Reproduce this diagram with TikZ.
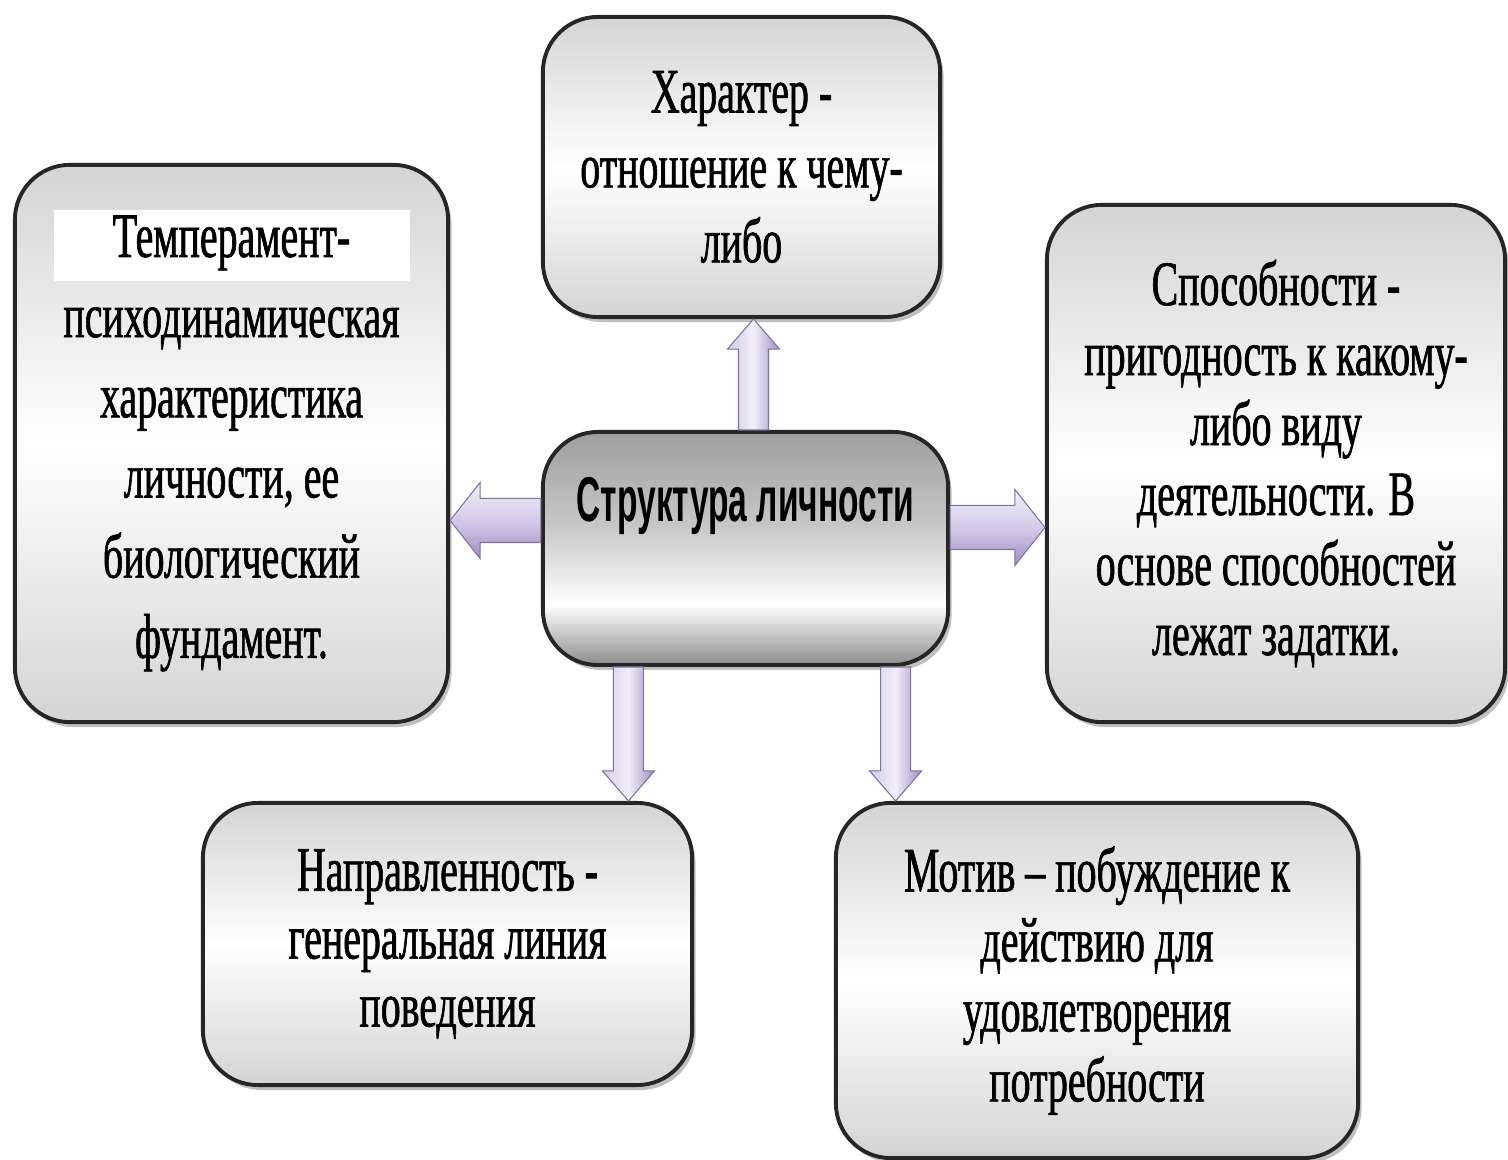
\documentclass[tikz,border=0pt]{standalone}
\usepackage{fontspec}
\setmainfont[FakeStretch=0.63, FakeBold=1]{Liberation Serif}
\newfontfamily\headfont[FakeStretch=0.53]{Liberation Sans}
\usetikzlibrary{calc,positioning,shadows}
\definecolor{lav}{RGB}{160,140,196}
\definecolor{lavlight}{RGB}{212,202,232}
\definecolor{boxgray}{RGB}{212,212,212}
\pgfdeclareverticalshading{coreshade}{100bp}{color(0bp)=(black!45); color(25bp)=(black!45); color(38bp)=(white); color(55bp)=(black!22); color(75bp)=(black!38); color(100bp)=(black!38)}
\tikzstyle{box} = [rectangle, rounded corners=0.55cm, draw=black!85, line width=1.1pt, top color=boxgray, bottom color=boxgray, middle color=white, drop shadow={shadow xshift=1pt, shadow yshift=-1.4pt, opacity=0.5}, align=center, inner sep=0pt]
\tikzstyle{corebox} = [rectangle, rounded corners=0.55cm, draw=black!85, line width=1.1pt, shading=coreshade, drop shadow={shadow xshift=1pt, shadow yshift=-1.4pt, opacity=0.5}, inner sep=0pt]
\tikzstyle{arrv} = [left color=lavlight, right color=lav, middle color=white!70!lavlight, draw=lav!80!black, line width=0.3pt]
\tikzstyle{arrh} = [top color=white!70!lavlight, bottom color=lav, middle color=lavlight, draw=lav!80!black, line width=0.3pt]
% block arrow: style, from, to, shaft half width, head half width
\newcommand{\blockarrow}[5]{%
  \coordinate (hb) at ($(#3)!0.3cm!(#2)$);
  \path[#1] ($(#2)!#4!90:(#3)$) -- ($(hb)!#4!-90:(#2)$) -- ($(hb)!#5!-90:(#2)$) -- (#3)
    -- ($(hb)!#5!90:(#2)$) -- ($(hb)!#4!90:(#2)$) -- ($(#2)!#4!-90:(#3)$) -- cycle;}

\begin{document}
\begin{tikzpicture}[x=0.01cm, y=0.01cm]
    \useasboundingbox (0,0) rectangle (1508,1160);

    % boxes
    \node[box, minimum width=3.97cm, minimum height=3cm, font=\fontsize{18}{21.3}\selectfont] (char) at (741.5,993)
        {Характер -\\ отношение к чему-\\ либо};
    \node[box, minimum width=4.33cm, minimum height=5.57cm, font=\fontsize{18}{22.8}\selectfont,
          path picture={\fill[white, sharp corners] ($(path picture bounding box.center)+(-178,162)$) rectangle ($(path picture bounding box.center)+(178,233)$);}] (temp) at (231.5,716.5)
        {Темперамент-\\ психодинамическая\\ характеристика\\ личности, ее\\ биологический\\ фундамент.};
    \node[box, minimum width=4.58cm, minimum height=5.17cm, font=\fontsize{18}{19.9}\selectfont] (abil) at (1276,696.5)
        {Способности -\\ пригодность к какому-\\ либо виду\\ деятельности. В\\ основе способностей\\ лежат задатки.};
    \node[corebox, minimum width=4.05cm, minimum height=2.33cm] (core) at (745.5,611.5) {};
    \node[font=\headfont\bfseries\fontsize{18}{21}\selectfont] (coretitle) at ([yshift=0.43cm]core.center) {Структура личности};
    \node[box, minimum width=4.89cm, minimum height=2.82cm, font=\fontsize{18}{19.3}\selectfont] (dir) at (447.5,216)
        {Направленность -\\ генеральная линия\\ поведения};
    \node[box, minimum width=5.22cm, minimum height=3.55cm, font=\fontsize{18}{19.9}\selectfont] (mot) at (1097,179.5)
        {Мотив – побуждение к\\ действию для\\ удовлетворения\\ потребности};

    % arrows
    \coordinate (upA) at ([xshift=0.08cm]core.north);
    \coordinate (leftA) at ([yshift=0.28cm]core.west);
    \coordinate (rightA) at ([yshift=0.21cm]core.east);
    \coordinate (downA) at ([xshift=-1.17cm]core.south);
    \coordinate (downB) at ([xshift=1.5cm]core.south);
    \blockarrow{arrv}{upA}{upA |- char.south}{0.15cm}{0.26cm}
    \blockarrow{arrh}{leftA}{leftA -| temp.east}{0.22cm}{0.38cm}
    \blockarrow{arrh}{rightA}{rightA -| abil.west}{0.22cm}{0.38cm}
    \blockarrow{arrv}{downA}{downA |- dir.north}{0.15cm}{0.26cm}
    \blockarrow{arrv}{downB}{downB |- mot.north}{0.15cm}{0.26cm}

\end{tikzpicture}
\end{document}
